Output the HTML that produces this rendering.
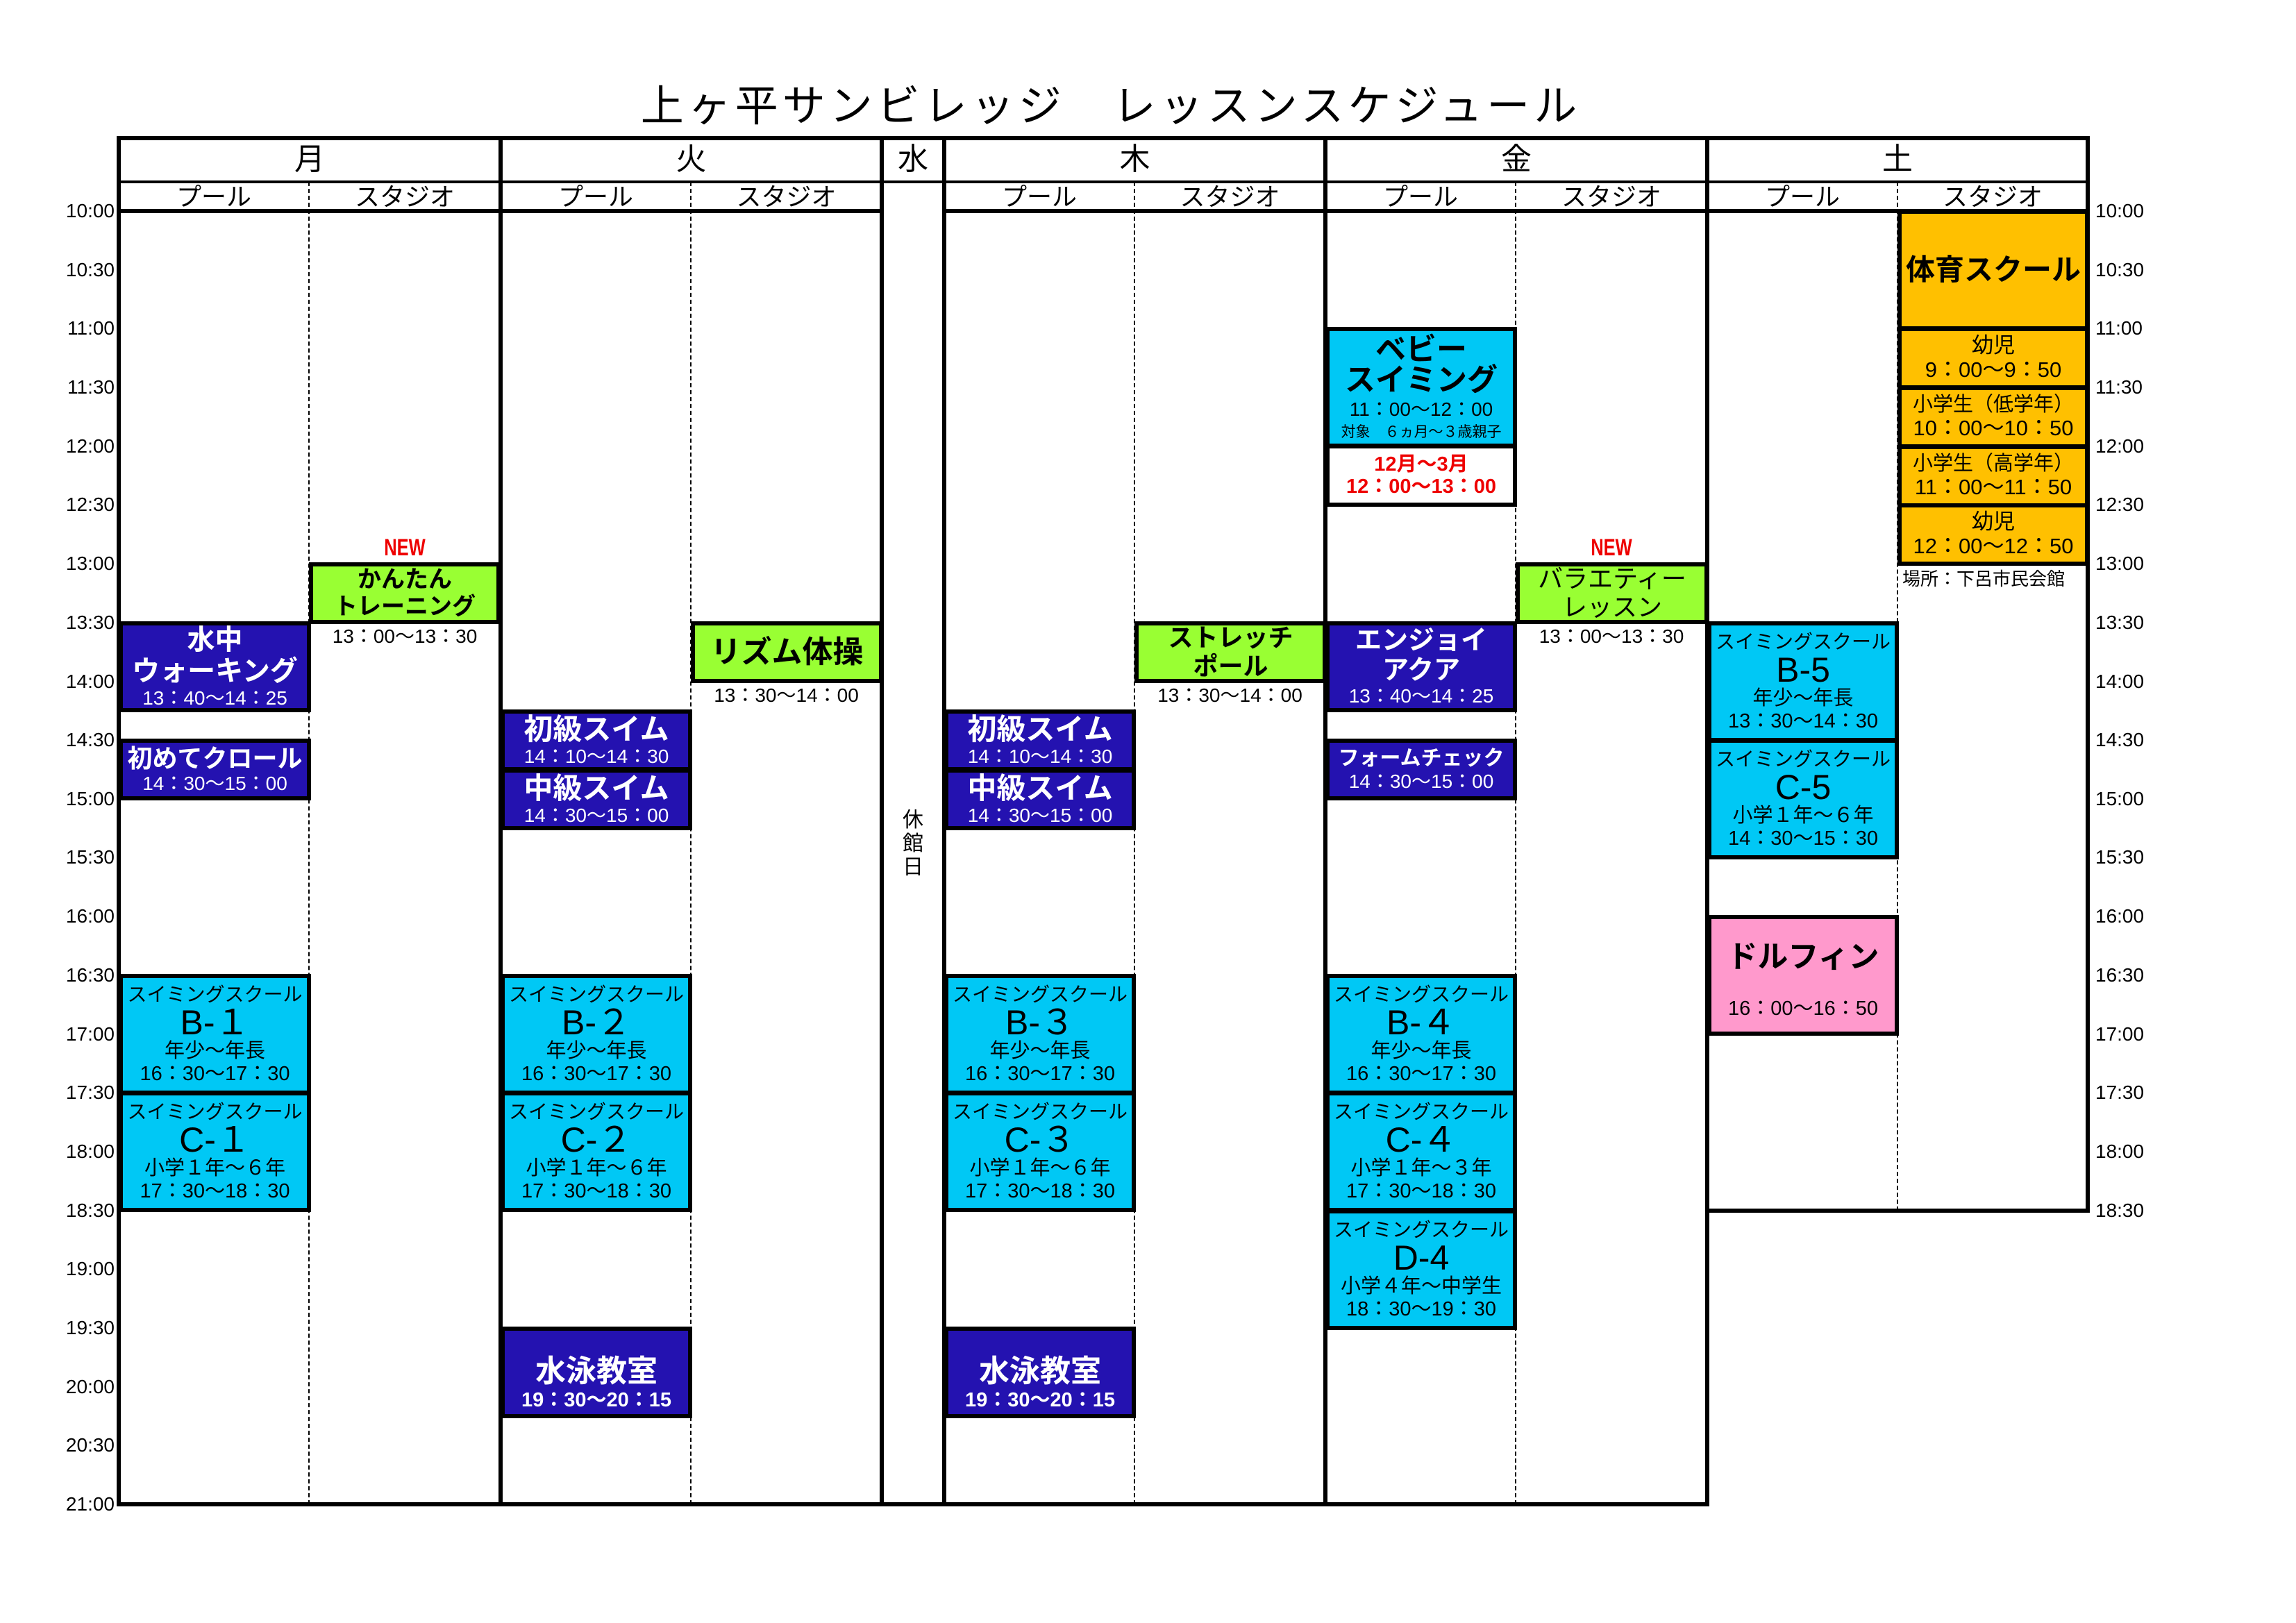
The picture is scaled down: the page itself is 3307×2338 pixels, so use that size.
<!DOCTYPE html>
<html><head><meta charset="utf-8">
<style>
*{margin:0;padding:0;box-sizing:border-box}
body{width:3307px;height:2338px;background:#fff;position:relative;overflow:hidden;font-family:"Liberation Sans","Noto Sans CJK JP",sans-serif;color:#000}
.a{position:absolute}
.h{position:absolute;background:#000}
.dv{position:absolute;border-left:2px dashed #000;width:0}
.c{position:absolute;text-align:center;white-space:nowrap}
.t{position:absolute;font-size:28px;line-height:30px;white-space:nowrap}
.tl{left:75px;width:90px;text-align:right}
.tr{left:3018px}
.b{position:absolute;border:6px solid #000;display:flex;flex-direction:column;justify-content:center;align-items:center;text-align:center;white-space:nowrap;line-height:1.12;overflow:hidden}
.db{background:#2412b0;color:#fff;font-weight:bold}
.cy{background:#00c8f5}
.gr{background:#99ff33}
.or{background:#ffc000}
.pk{background:#ff99cc}
.s26{font-size:28px;font-weight:normal}
.s28{font-size:29px;font-weight:normal}
.new{position:absolute;color:#e00;font-weight:bold;font-size:34px;text-align:center;transform:scaleX(0.75)}
</style></head><body>
<div class="c" style="left:900px;width:1400px;top:118px;font-size:62px;letter-spacing:6px;line-height:72px">上ヶ平サンビレッジ　レッスンスケジュール</div>

<div class="h" style="left:169px;top:196px;width:2841px;height:6px"></div>
<div class="h" style="left:169px;top:260px;width:2841px;height:4px"></div>
<div class="h" style="left:169px;top:301px;width:1103px;height:6px"></div>
<div class="h" style="left:1358px;top:301px;width:1652px;height:6px"></div>
<div class="h" style="left:169px;top:2164px;width:2293px;height:6px"></div>
<div class="h" style="left:2457px;top:1741px;width:553px;height:6px"></div>
<div class="h" style="left:168px;top:196px;width:6px;height:1974px"></div>
<div class="h" style="left:718px;top:196px;width:6px;height:1974px"></div>
<div class="h" style="left:1267px;top:196px;width:6px;height:1974px"></div>
<div class="h" style="left:1357px;top:196px;width:6px;height:1974px"></div>
<div class="h" style="left:1906px;top:196px;width:6px;height:1974px"></div>
<div class="h" style="left:2456px;top:196px;width:6px;height:1974px"></div>
<div class="h" style="left:3004px;top:196px;width:6px;height:1551px"></div>
<div class="dv" style="left:444px;top:262px;height:1905px"></div>
<div class="dv" style="left:994px;top:262px;height:1905px"></div>
<div class="dv" style="left:1633px;top:262px;height:1905px"></div>
<div class="dv" style="left:2182px;top:262px;height:1905px"></div>
<div class="dv" style="left:2732px;top:262px;height:1482px"></div>

<div class="c" style="left:171px;width:550px;top:204px;font-size:44px;line-height:52px">月</div>
<div class="c" style="left:721px;width:549px;top:204px;font-size:44px;line-height:52px">火</div>
<div class="c" style="left:1270px;width:90px;top:204px;font-size:44px;line-height:52px">水</div>
<div class="c" style="left:1360px;width:549px;top:204px;font-size:44px;line-height:52px">木</div>
<div class="c" style="left:1909px;width:550px;top:204px;font-size:44px;line-height:52px">金</div>
<div class="c" style="left:2459px;width:548px;top:204px;font-size:44px;line-height:52px">土</div>

<div class="c" style="left:171px;width:274px;top:264px;font-size:36px;line-height:40px">プール</div>
<div class="c" style="left:445px;width:276px;top:264px;font-size:36px;line-height:40px">スタジオ</div>
<div class="c" style="left:721px;width:274px;top:264px;font-size:36px;line-height:40px">プール</div>
<div class="c" style="left:995px;width:275px;top:264px;font-size:36px;line-height:40px">スタジオ</div>
<div class="c" style="left:1360px;width:274px;top:264px;font-size:36px;line-height:40px">プール</div>
<div class="c" style="left:1634px;width:275px;top:264px;font-size:36px;line-height:40px">スタジオ</div>
<div class="c" style="left:1909px;width:274px;top:264px;font-size:36px;line-height:40px">プール</div>
<div class="c" style="left:2183px;width:276px;top:264px;font-size:36px;line-height:40px">スタジオ</div>
<div class="c" style="left:2459px;width:274px;top:264px;font-size:36px;line-height:40px">プール</div>
<div class="c" style="left:2733px;width:274px;top:264px;font-size:36px;line-height:40px">スタジオ</div>

<div class="t tl" style="top:289px">10:00</div><div class="t tl" style="top:374px">10:30</div><div class="t tl" style="top:458px">11:00</div><div class="t tl" style="top:543px">11:30</div><div class="t tl" style="top:628px">12:00</div><div class="t tl" style="top:712px">12:30</div><div class="t tl" style="top:797px">13:00</div><div class="t tl" style="top:882px">13:30</div><div class="t tl" style="top:967px">14:00</div><div class="t tl" style="top:1051px">14:30</div><div class="t tl" style="top:1136px">15:00</div><div class="t tl" style="top:1220px">15:30</div><div class="t tl" style="top:1305px">16:00</div><div class="t tl" style="top:1390px">16:30</div><div class="t tl" style="top:1475px">17:00</div><div class="t tl" style="top:1559px">17:30</div><div class="t tl" style="top:1644px">18:00</div><div class="t tl" style="top:1729px">18:30</div><div class="t tl" style="top:1813px">19:00</div><div class="t tl" style="top:1898px">19:30</div><div class="t tl" style="top:1983px">20:00</div><div class="t tl" style="top:2067px">20:30</div><div class="t tl" style="top:2152px">21:00</div>
<div class="t tr" style="top:289px">10:00</div><div class="t tr" style="top:374px">10:30</div><div class="t tr" style="top:458px">11:00</div><div class="t tr" style="top:543px">11:30</div><div class="t tr" style="top:628px">12:00</div><div class="t tr" style="top:712px">12:30</div><div class="t tr" style="top:797px">13:00</div><div class="t tr" style="top:882px">13:30</div><div class="t tr" style="top:967px">14:00</div><div class="t tr" style="top:1051px">14:30</div><div class="t tr" style="top:1136px">15:00</div><div class="t tr" style="top:1220px">15:30</div><div class="t tr" style="top:1305px">16:00</div><div class="t tr" style="top:1390px">16:30</div><div class="t tr" style="top:1475px">17:00</div><div class="t tr" style="top:1559px">17:30</div><div class="t tr" style="top:1644px">18:00</div><div class="t tr" style="top:1729px">18:30</div>

<div class="c" style="left:1270px;width:90px;top:1165px;font-size:30px;line-height:34px">休<br>館<br>日</div>

<!-- Mon -->
<div class="b db" style="left:171px;top:895px;width:277px;height:131px"><div style="font-size:40px">水中</div><div style="font-size:40px">ウォーキング</div><div class="s26">13：40～14：25</div></div>
<div class="b db" style="left:171px;top:1064px;width:277px;height:89px"><div style="font-size:36px">初めてクロール</div><div class="s26">14：30～15：00</div></div>
<div class="b cy" style="left:171px;top:1403px;width:277px;height:174px"><div class="s26">スイミングスクール</div><div style="font-size:50px;line-height:1">B-１</div><div class="s28">年少～年長</div><div class="s28">16：30～17：30</div></div>
<div class="b cy" style="left:171px;top:1572px;width:277px;height:174px"><div class="s26">スイミングスクール</div><div style="font-size:50px;line-height:1">C-１</div><div class="s28">小学１年～６年</div><div class="s28">17：30～18：30</div></div>
<div class="new" style="left:445px;width:276px;top:770px">NEW</div>
<div class="b gr" style="left:445px;top:810px;width:276px;height:89px"><div style="font-size:34px;font-weight:bold">かんたん</div><div style="font-size:34px;font-weight:bold">トレーニング</div></div>
<div class="c" style="left:445px;width:276px;top:900px;font-size:28px;line-height:34px">13：00～13：30</div>

<!-- Tue -->
<div class="b db" style="left:721px;top:1022px;width:276px;height:89px"><div style="font-size:42px">初級スイム</div><div class="s26">14：10～14：30</div></div>
<div class="b db" style="left:721px;top:1107px;width:276px;height:89px"><div style="font-size:42px">中級スイム</div><div class="s26">14：30～15：00</div></div>
<div class="b cy" style="left:721px;top:1403px;width:276px;height:174px"><div class="s26">スイミングスクール</div><div style="font-size:50px;line-height:1">B-２</div><div class="s28">年少～年長</div><div class="s28">16：30～17：30</div></div>
<div class="b cy" style="left:721px;top:1572px;width:276px;height:174px"><div class="s26">スイミングスクール</div><div style="font-size:50px;line-height:1">C-２</div><div class="s28">小学１年～６年</div><div class="s28">17：30～18：30</div></div>
<div class="b db" style="left:721px;top:1911px;width:276px;height:132px;justify-content:flex-end;padding-bottom:4px"><div style="font-size:44px">水泳教室</div><div style="font-size:29px">19：30～20：15</div></div>
<div class="b gr" style="left:995px;top:895px;width:277px;height:89px"><div style="font-size:44px;font-weight:bold">リズム体操</div></div>
<div class="c" style="left:995px;width:275px;top:985px;font-size:28px;line-height:34px">13：30～14：00</div>

<!-- Thu -->
<div class="b db" style="left:1360px;top:1022px;width:276px;height:89px"><div style="font-size:42px">初級スイム</div><div class="s26">14：10～14：30</div></div>
<div class="b db" style="left:1360px;top:1107px;width:276px;height:89px"><div style="font-size:42px">中級スイム</div><div class="s26">14：30～15：00</div></div>
<div class="b cy" style="left:1360px;top:1403px;width:276px;height:174px"><div class="s26">スイミングスクール</div><div style="font-size:50px;line-height:1">B-３</div><div class="s28">年少～年長</div><div class="s28">16：30～17：30</div></div>
<div class="b cy" style="left:1360px;top:1572px;width:276px;height:174px"><div class="s26">スイミングスクール</div><div style="font-size:50px;line-height:1">C-３</div><div class="s28">小学１年～６年</div><div class="s28">17：30～18：30</div></div>
<div class="b db" style="left:1360px;top:1911px;width:276px;height:132px;justify-content:flex-end;padding-bottom:4px"><div style="font-size:44px">水泳教室</div><div style="font-size:29px">19：30～20：15</div></div>
<div class="b gr" style="left:1634px;top:895px;width:277px;height:89px"><div style="font-size:36px;font-weight:bold">ストレッチ</div><div style="font-size:36px;font-weight:bold">ポール</div></div>
<div class="c" style="left:1634px;width:275px;top:985px;font-size:28px;line-height:34px">13：30～14：00</div>

<!-- Fri -->
<div class="b cy" style="left:1909px;top:471px;width:276px;height:174px"><div style="font-size:44px;font-weight:bold;line-height:1">ベビー</div><div style="font-size:44px;font-weight:bold;line-height:1">スイミング</div><div class="s26" style="margin-top:4px">11：00～12：00</div><div style="font-size:21px;margin-top:6px">対象　６ヵ月～３歳親子</div></div>
<div class="b" style="left:1909px;top:640px;width:276px;height:90px;color:#e00;font-weight:bold"><div style="font-size:29px">12月～3月</div><div style="font-size:29px">12：00～13：00</div></div>
<div class="b db" style="left:1909px;top:895px;width:276px;height:131px"><div style="font-size:38px">エンジョイ</div><div style="font-size:38px">アクア</div><div class="s26">13：40～14：25</div></div>
<div class="b db" style="left:1909px;top:1064px;width:276px;height:89px"><div style="font-size:30px">フォームチェック</div><div class="s26">14：30～15：00</div></div>
<div class="b cy" style="left:1909px;top:1403px;width:276px;height:174px"><div class="s26">スイミングスクール</div><div style="font-size:50px;line-height:1">B-４</div><div class="s28">年少～年長</div><div class="s28">16：30～17：30</div></div>
<div class="b cy" style="left:1909px;top:1572px;width:276px;height:174px"><div class="s26">スイミングスクール</div><div style="font-size:50px;line-height:1">C-４</div><div class="s28">小学１年～３年</div><div class="s28">17：30～18：30</div></div>
<div class="b cy" style="left:1909px;top:1742px;width:276px;height:174px"><div class="s26">スイミングスクール</div><div style="font-size:50px;line-height:1">D-4</div><div class="s28">小学４年～中学生</div><div class="s28">18：30～19：30</div></div>
<div class="new" style="left:2183px;width:276px;top:770px">NEW</div>
<div class="b gr" style="left:2183px;top:810px;width:278px;height:89px"><div style="font-size:36px">バラエティー</div><div style="font-size:36px">レッスン</div></div>
<div class="c" style="left:2183px;width:276px;top:900px;font-size:28px;line-height:34px">13：00～13：30</div>

<!-- Sat -->
<div class="b cy" style="left:2459px;top:895px;width:276px;height:174px"><div class="s26">スイミングスクール</div><div style="font-size:50px;line-height:1">B-5</div><div class="s28">年少～年長</div><div class="s28">13：30～14：30</div></div>
<div class="b cy" style="left:2459px;top:1064px;width:276px;height:174px"><div class="s26">スイミングスクール</div><div style="font-size:50px;line-height:1">C-5</div><div class="s28">小学１年～６年</div><div class="s28">14：30～15：30</div></div>
<div class="b pk" style="left:2459px;top:1318px;width:276px;height:174px"><div style="font-size:44px;font-weight:bold;margin-top:14px">ドルフィン</div><div class="s28" style="margin-top:34px">16：00～16：50</div></div>
<div class="b or" style="left:2733px;top:302px;width:276px;height:174px"><div style="font-size:42px;font-weight:bold">体育スクール</div></div>
<div class="b or" style="left:2733px;top:471px;width:276px;height:90px"><div style="font-size:31px">幼児</div><div style="font-size:31px">9：00～9：50</div></div>
<div class="b or" style="left:2733px;top:556px;width:276px;height:90px"><div style="font-size:29px">小学生（低学年）</div><div style="font-size:31px">10：00～10：50</div></div>
<div class="b or" style="left:2733px;top:641px;width:276px;height:90px"><div style="font-size:29px">小学生（高学年）</div><div style="font-size:31px">11：00～11：50</div></div>
<div class="b or" style="left:2733px;top:725px;width:276px;height:90px"><div style="font-size:31px">幼児</div><div style="font-size:31px">12：00～12：50</div></div>
<div class="a" style="left:2740px;top:818px;font-size:26px;line-height:32px;white-space:nowrap">場所：下呂市民会館</div>
</body></html>
